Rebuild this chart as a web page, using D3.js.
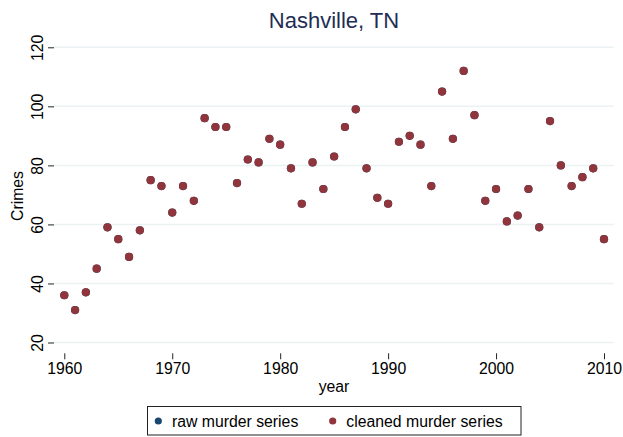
<!DOCTYPE html>
<html>
<head>
<meta charset="utf-8">
<script src="https://cdn.jsdelivr.net/npm/d3@7"></script>
<style>
  body { margin: 0; background: #fff; }
  svg text { font-family: "Liberation Sans", Arial, Helvetica, sans-serif; }
</style>
</head>
<body>
<div id="chart"></div>
<script>
// data
var years = d3.range(1960, 2011);
var cleanedMurders = [36, 31, 37, 45, 59, 55, 49, 58, 75, 73,
                      64, 73, 68, 96, 93, 93, 74, 82, 81, 89,
                      87, 79, 67, 81, 72, 83, 93, 99, 79, 69,
                      67, 88, 90, 87, 73, 105, 89, 112, 97, 68,
                      72, 61, 63, 72, 59, 95, 80, 73, 76, 79, 55];
// raw series sits exactly under the cleaned one
var rawMurders = [36, 31, 37, 45, 59, 55, 49, 58, 75, 73,
                  64, 73, 68, 96, 93, 93, 74, 82, 81, 89,
                  87, 79, 67, 81, 72, 83, 93, 99, 79, 69,
                  67, 88, 90, 87, 73, 105, 89, 112, 97, 68,
                  72, 61, 63, 72, 59, 95, 80, 73, 76, 79, 55];
var xTicks = [1960, 1970, 1980, 1990, 2000, 2010];
var yTicks = [20, 40, 60, 80, 100, 120];
var seriesNames = ["raw murder series", "cleaned murder series"];
var seriesColors = ["#1a476f", "#90353b"];

var width = 623, height = 437;

var svg = d3.select("#chart").append("svg")
  .attr("width", width)
  .attr("height", height);

var x = d3.scaleLinear().domain([1960, 2010]).range([64.3, 604]);
var y = d3.scaleLinear().domain([20, 120]).range([342.5, 47.3]);

// title
svg.append("text")
  .attr("x", 334).attr("y", 28.3)
  .attr("text-anchor", "middle")
  .attr("font-size", "22px")
  .attr("fill", "#1f2d55")
  .text("Nashville, TN");

// gridlines
svg.append("g").selectAll("line").data(yTicks).enter().append("line")
  .attr("x1", 54).attr("x2", 614)
  .attr("y1", d => y(d)).attr("y2", d => y(d))
  .attr("stroke", "#eaf2f3")
  .attr("stroke-width", 1.5);

// y axis
var yAxis = svg.append("g")
  .attr("transform", "translate(54,0)")
  .call(d3.axisLeft(y).tickValues(yTicks).tickSize(6).tickFormat(d3.format("d")));
yAxis.select(".domain").remove();
yAxis.selectAll(".tick line").attr("stroke", "#222");
yAxis.selectAll(".tick text")
  .attr("x", null).attr("dy", null)
  .attr("transform", "translate(-11.5,0) rotate(-90)")
  .attr("text-anchor", "middle")
  .attr("font-size", "15.8px")
  .attr("fill", "#000");

svg.append("text")
  .attr("transform", "translate(23,196) rotate(-90)")
  .attr("text-anchor", "middle")
  .attr("font-size", "15.8px")
  .text("Crimes");

// x axis
var xAxis = svg.append("g")
  .attr("transform", "translate(0,353.3)")
  .call(d3.axisBottom(x).tickValues(xTicks).tickSize(6).tickFormat(d3.format("d")));
xAxis.select(".domain").remove();
xAxis.selectAll(".tick line").attr("stroke", "#222");
xAxis.selectAll(".tick text")
  .attr("y", 20.7).attr("dy", null)
  .attr("font-size", "15.8px")
  .attr("fill", "#000");

svg.append("text")
  .attr("x", 334).attr("y", 392)
  .attr("text-anchor", "middle")
  .attr("font-size", "15.8px")
  .text("year");

// points
svg.append("g").selectAll("circle").data(rawMurders).enter().append("circle")
  .attr("cx", (d, i) => x(years[i]))
  .attr("cy", d => y(d))
  .attr("r", 4.1)
  .attr("fill", seriesColors[0]);

svg.append("g").selectAll("circle").data(cleanedMurders).enter().append("circle")
  .attr("cx", (d, i) => x(years[i]))
  .attr("cy", d => y(d))
  .attr("r", 4.1)
  .attr("fill", seriesColors[1]);

// legend
var legend = svg.append("g");
legend.append("rect")
  .attr("x", 147.5).attr("y", 406.5)
  .attr("width", 373.5).attr("height", 28.5)
  .attr("fill", "#fff")
  .attr("stroke", "#222")
  .attr("stroke-width", 1);

var legendX = [158.3, 332.7];
seriesNames.forEach(function(name, i) {
  legend.append("circle")
    .attr("cx", legendX[i]).attr("cy", 421)
    .attr("r", 3.6)
    .attr("fill", seriesColors[i]);
  legend.append("text")
    .attr("x", legendX[i] + 13.6).attr("y", 426.6)
    .attr("font-size", "15.8px")
    .text(name);
});
</script>
</body>
</html>
